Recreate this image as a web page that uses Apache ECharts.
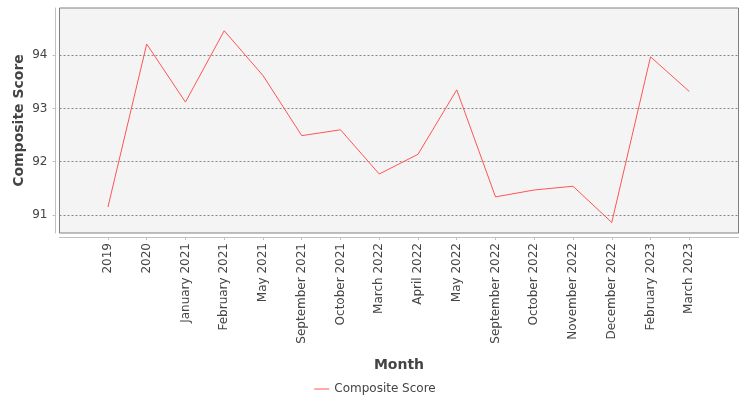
<!DOCTYPE html>
<html>
<head>
<meta charset="utf-8">
<script src="https://cdn.jsdelivr.net/npm/echarts@6/dist/echarts.min.js"></script>
<style>
  html, body { margin: 0; padding: 0; background: #fff; }
  #chart { width: 750px; height: 400px; }
</style>
</head>
<body>
<div id="chart"></div>
<script>
// data
const months = ['2019', '2020', 'January 2021', 'February 2021', 'May 2021', 'September 2021',
  'October 2021', 'March 2022', 'April 2022', 'May 2022', 'September 2022', 'October 2022',
  'November 2022', 'December 2022', 'February 2023', 'March 2023'];
const scores = [91.15, 94.21, 93.12, 94.46, 93.62, 92.49, 92.6, 91.77, 92.14, 93.35,
  91.34, 91.47, 91.54, 90.86, 93.97, 93.32];
const yTicks = [91, 92, 93, 94];

(function () {
  let myChart = echarts.init(document.getElementById('chart'));
  const textColor = '#444';
  const font = 'DejaVu Sans';
  // x as index so the category margins match the original plot
  const idx = months.map((m, i) => i);

  let option = {
    animation: false,
    textStyle: { fontFamily: font },
    grid: {
      left: 59.5, top: 8, width: 679, height: 225,
      show: true,
      backgroundColor: '#f4f4f4',
      borderColor: '#808080',
      borderWidth: 1
    },
    legend: {
      bottom: 0,
      left: 'center',
      icon: 'rect',
      itemWidth: 15,
      itemHeight: 1,
      textStyle: { color: textColor, fontSize: 12, fontFamily: font },
      data: ['Composite Score']
    },
    xAxis: {
      type: 'value',
      min: -1.25,
      max: 16.27,
      offset: 4,
      name: 'Month',
      nameLocation: 'middle',
      nameGap: 121,
      nameMoveOverlap: false,
      nameTextStyle: { color: textColor, fontSize: 14, fontWeight: 'bold', fontFamily: font },
      axisLine: { show: true, onZero: false, lineStyle: { color: '#c0c0c0', width: 1 } },
      axisTick: { show: true, length: 3, customValues: idx, lineStyle: { color: '#c0c0c0' } },
      axisLabel: {
        customValues: idx,
        rotate: 90,
        margin: 6,
        color: textColor,
        fontSize: 12,
        fontFamily: font,
        formatter: v => months[Math.round(v)]
      },
      splitLine: { show: false }
    },
    yAxis: {
      type: 'value',
      min: 90.662,
      max: 94.887,
      offset: 4,
      name: 'Composite Score',
      nameLocation: 'middle',
      nameGap: 29,
      nameMoveOverlap: false,
      nameTextStyle: { color: textColor, fontSize: 14, fontWeight: 'bold', fontFamily: font },
      axisLine: { show: true, onZero: false, lineStyle: { color: '#c0c0c0', width: 1 } },
      axisTick: { show: true, length: 3, customValues: yTicks, lineStyle: { color: '#c0c0c0' } },
      axisLabel: {
        customValues: yTicks,
        margin: 8,
        color: textColor,
        fontSize: 12,
        fontFamily: font
      },
      splitLine: { show: true, lineStyle: { color: '#888', type: [2, 2], width: 1 } }
    },
    series: [{
      name: 'Composite Score',
      type: 'line',
      symbol: 'none',
      data: scores.map((v, i) => [i, v]),
      lineStyle: { color: '#ff5555', width: 1 },
      itemStyle: { color: '#ff5555' }
    }]
  };
  myChart.setOption(option);
})();
</script>
</body>
</html>
